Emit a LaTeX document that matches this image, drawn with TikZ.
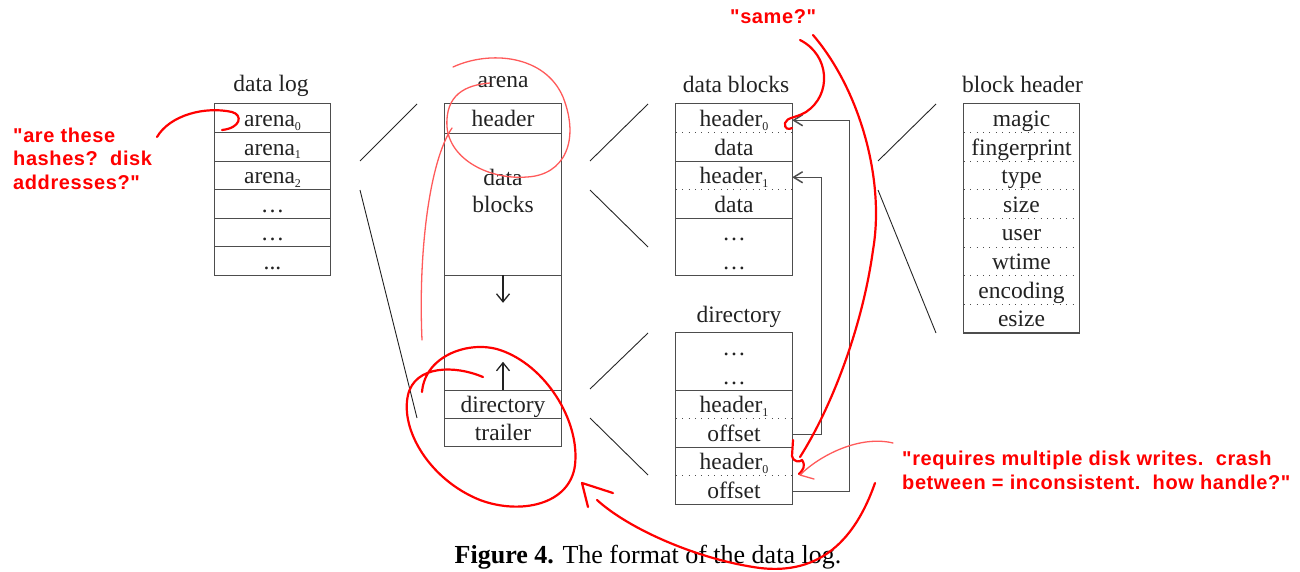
\documentclass[tikz,border=0pt]{standalone}
\usepackage{fontspec}
\setmainfont{Liberation Serif}
\newfontfamily\redfont[LetterSpace=3]{Liberation Sans}
\usetikzlibrary{arrows.meta}
\definecolor{ink}{HTML}{222222}
\definecolor{boxline}{HTML}{4D4D4D}
\definecolor{pen}{HTML}{FF0000}
\definecolor{lightpen}{HTML}{FF5A5A}
\newcommand{\subsc}[1]{\raisebox{-0.35ex}{\fontsize{12}{12}\selectfont #1}}
\begin{document}
\begin{tikzpicture}[x=1pt,y=-1pt,
  cell/.style={inner sep=0pt, minimum width=115pt, minimum height=28.5pt, text height=19pt, text depth=2.5pt, font=\fontsize{23.5}{26}\selectfont, text=ink},
  region/.style={inner sep=0pt, minimum width=116pt},
  boxtitle/.style={anchor=base, inner sep=0pt, font=\fontsize{23.5}{26}\selectfont, text=ink},
  frame/.style={draw=boxline, line width=1.2pt},
  boxsep/.style={draw=boxline, line width=1.2pt},
  dotsep/.style={draw=boxline, line width=1pt, dash pattern=on 0.8pt off 5.6pt},
  zoomline/.style={draw=black!85, line width=0.9pt},
  ptr/.style={draw=boxline, line width=1.2pt, -{Straight Barb[length=9pt,width=11pt,line width=1.5pt]}},
  growarrow/.style={draw=ink, line width=1.3pt, -{Straight Barb[length=8pt,width=13pt]}},
  redtext/.style={text=pen, font=\redfont\bfseries\fontsize{20}{23.5}\selectfont, align=left, inner sep=0pt, anchor=base west},
  boldpen/.style={draw=pen, line width=2.2pt, line cap=round, line join=round},
  thinpen/.style={draw=lightpen, line width=1.3pt, line cap=round, line join=round},
]
\useasboundingbox (0,0) rectangle (1300,571);

% ---------------- data log
\node[boxtitle] (tdl) at (271,91) {data log};
\node[cell] (dl0) at (272.5,118.25) {arena\subsc{0}};
\node[cell] (dl1) at (272.5,146.75) {arena\subsc{1}};
\node[cell] (dl2) at (272.5,175.25) {arena\subsc{2}};
\node[cell] (dl3) at (272.5,203.75) {\ldots};
\node[cell] (dl4) at (272.5,232.25) {\ldots};
\node[cell] (dl5) at (272.5,260.75) {...};
\draw[frame] (dl0.north west) rectangle (dl5.south east);
\foreach \i in {0,...,4}{\draw[boxsep] (dl\i.south west) -- (dl\i.south east);}

% ---------------- arena
\node[boxtitle] (tar) at (503,87) {arena};
\node[cell, minimum width=116pt, minimum height=29pt] (ahd) at (503,118.5) {header};
\node[region, minimum height=142pt] (adata) at (503,204) {};
\node[inner sep=0pt, align=center, font=\fontsize{23.5}{27}\selectfont, text=ink] (adtext) at (503,190.5) {data\\blocks};
\node[region, minimum height=115pt] (amid) at (503,332.5) {};
\node[cell, minimum width=116pt, minimum height=28pt] (adir) at (503,404) {directory};
\node[cell, minimum width=116pt, minimum height=28pt] (atr) at (503,432) {trailer};
\draw[frame] (ahd.north west) rectangle (atr.south east);
\draw[boxsep] (ahd.south west) -- (ahd.south east);
\draw[boxsep] (adata.south west) -- (adata.south east);
\draw[boxsep] (amid.south west) -- (amid.south east);
\draw[boxsep] (adir.south west) -- (adir.south east);
\draw[growarrow] (amid.north) -- ++(0,28);
\draw[growarrow] (adir.north) -- ++(0,-28);

% ---------------- data blocks
\node[boxtitle] (tdb) at (736,92) {data blocks};
\node[cell, minimum width=116pt] (dbh0) at (734,118.25) {header\subsc{0}};
\node[cell, minimum width=116pt] (dbd0) at (734,146.75) {data};
\node[cell, minimum width=116pt] (dbh1) at (734,175.25) {header\subsc{1}};
\node[cell, minimum width=116pt] (dbd1) at (734,203.75) {data};
\node[cell, minimum width=116pt] (dbe0) at (734,232.25) {\ldots};
\node[cell, minimum width=116pt] (dbe1) at (734,260.75) {\ldots};
\draw[frame] (dbh0.north west) rectangle (dbe1.south east);
\draw[dotsep] (dbh0.south west) -- (dbh0.south east);
\draw[boxsep] (dbd0.south west) -- (dbd0.south east);
\draw[dotsep] (dbh1.south west) -- (dbh1.south east);
\draw[boxsep] (dbd1.south west) -- (dbd1.south east);

% ---------------- directory
\node[boxtitle] (tdir) at (739,322) {directory};
\node[cell, minimum width=116pt] (dre0) at (734,347.25) {\ldots};
\node[cell, minimum width=116pt] (dre1) at (734,375.75) {\ldots};
\node[cell, minimum width=116pt] (drh1) at (734,404.25) {header\subsc{1}};
\node[cell, minimum width=116pt] (dro1) at (734,432.75) {offset};
\node[cell, minimum width=116pt] (drh0) at (734,461.25) {header\subsc{0}};
\node[cell, minimum width=116pt] (dro0) at (734,489.75) {offset};
\draw[frame] (dre0.north west) rectangle (dro0.south east);
\draw[boxsep] (dre1.south west) -- (dre1.south east);
\draw[dotsep] (drh1.south west) -- (drh1.south east);
\draw[boxsep] (dro1.south west) -- (dro1.south east);
\draw[dotsep] (drh0.south west) -- (drh0.south east);

% ---------------- block header
\node[boxtitle] (tbh) at (1022.5,92) {block header};
\foreach \t [count=\i from 0] in {magic,fingerprint,type,size,user,wtime,encoding,esize}{
  \node[cell] (bh\i) at (1021.5,{118.3+28.6*\i}) {\t};
}
\draw[frame] (bh0.north west) rectangle (bh7.south east);
\foreach \i in {0,...,6}{\draw[dotsep] (bh\i.south west) -- (bh\i.south east);}

% ---------------- pointers from directory to data blocks
\draw[ptr] ([yshift=-2pt]dro0.east) -- ++(57,0) |- ([yshift=-2pt]dbh0.east);
\draw[ptr] ([yshift=-1.5pt]dro1.east) -- ++(29,0) |- ([yshift=-2pt]dbh1.east);

% ---------------- expansion lines
\coordinate (e1a) at (360,161); \coordinate (e1b) at (417,104);
\coordinate (e2a) at (360,190); \coordinate (e2b) at (417,418);
\coordinate (e3a) at (590,161); \coordinate (e3b) at (648,104);
\coordinate (e4a) at (590,190); \coordinate (e4b) at (648,247);
\coordinate (e5a) at (590,389); \coordinate (e5b) at (648,333);
\coordinate (e6a) at (590,418); \coordinate (e6b) at (648,475);
\coordinate (e7a) at (878,161); \coordinate (e7b) at (936,104);
\coordinate (e8a) at (878,190); \coordinate (e8b) at (936,333);
\foreach \k in {1,...,8}{\draw[zoomline] (e\k a) -- (e\k b);}

% ---------------- caption
\node[anchor=base, inner sep=0pt, font=\fontsize{26}{30}\selectfont, text=black] (cap) at (648,563) {\textbf{Figure 4.} The format of the data log.};

% ---------------- red annotations
\node[redtext] (q1) at (13,189) {"are these\\hashes?\ \ disk\\addresses?"};
\node[redtext] (q2) at (730,23) {"same?"};
\node[redtext] (q3) at (902,489) {"requires multiple disk writes.\ \ crash\\between = inconsistent.\ \ how handle?"};

% hook to arena0
\draw[boldpen] (157,137) .. controls (170,115) and (205,106) .. (232,112) .. controls (243,115) and (241,128) .. (222,130);
% thin loop around header
\draw[thinpen] (453,67) .. controls (490,50) and (545,55) .. (563,97) .. controls (580,140) and (565,175) .. (527,177) .. controls (490,180) and (450,160) .. (447,127) .. controls (445,95) and (465,85) .. (490,83);
\draw[thinpen] (452,128) .. controls (430,160) and (418,250) .. (422,340);
% big loop around directory/trailer
\draw[boldpen] (422,392) .. controls (425,355) and (470,340) .. (500,350) .. controls (545,365) and (580,420) .. (575,465) .. controls (570,505) and (520,515) .. (480,500) .. controls (430,480) and (400,430) .. (408,395) .. controls (415,365) and (455,365) .. (483,377);
% arrow from bottom right back to the loop
\draw[boldpen] (875,483) .. controls (855,540) and (820,575) .. (760,568) .. controls (700,560) and (630,530) .. (597,500);
\draw[boldpen] (613,493) -- (582,483) -- (588,507);
% "same?" strokes
\draw[boldpen] (800,40) .. controls (830,55) and (832,95) .. (806,112) .. controls (796,118) and (787,117) .. (785,123) .. controls (784,129) and (789,130) .. (792,128);
\draw[boldpen] (813,35) .. controls (860,90) and (885,180) .. (873,250) .. controls (862,330) and (830,410) .. (800,457);
\draw[boldpen] (793,440) -- (792,456) .. controls (794,463) and (800,462) .. (802,460) .. controls (806,466) and (803,470) .. (799,474);
% thin arrow from "requires..." to directory header0
\draw[thinpen] (893,443) .. controls (860,435) and (820,455) .. (800,475) -- (814,479);
\end{tikzpicture}
\end{document}
